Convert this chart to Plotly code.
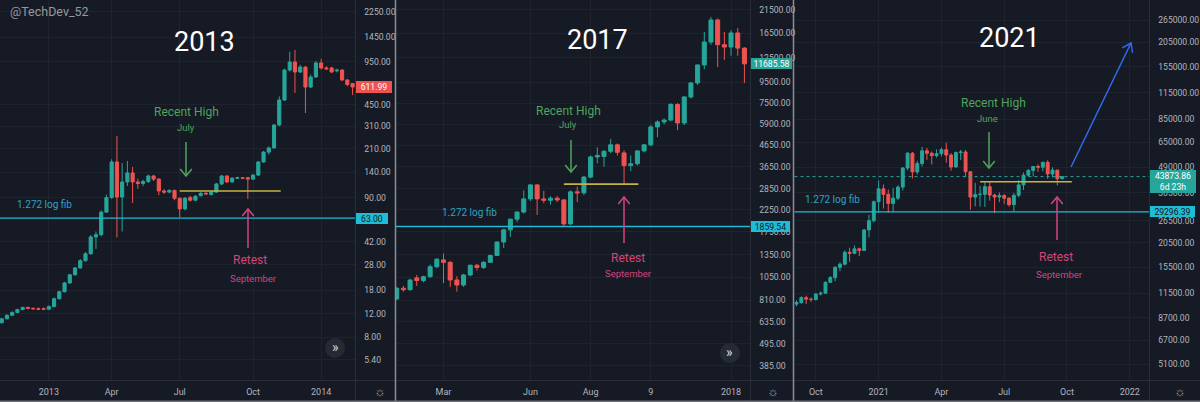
import math
import pandas as pd
import plotly.graph_objects as go

W, H = 1200, 402
FONT = "Roboto"
BG = "#161a25"
GRID = "#1f232e"
AXIS_TXT = "#b2b5be"
UP = "#26a69a"
DOWN = "#ef5350"
FIB = "#22b8d4"
FIB_TXT = "#2ea3c4"
GREEN_TXT = "#4fa55a"
PINK = "#d4457b"
YELLOW = "#c4b441"
BLUE = "#2f6bf0"

# ---------------- data: 2013 panel (weekly) ----------------
start_2013 = "2012-11-05"
open_2013 = [10.3, 11.0, 11.7, 12.3, 12.9, 13.4, 13.2, 13.1, 13.1, 13.0,
             13.6, 15.6, 17.6, 20.5, 23.6, 26.6, 30.1, 34.0, 45.5, 47.3,
             70, 90, 167, 91, 118, 138, 118, 115, 119, 131,
             124, 101, 99, 102, 89, 74, 90, 86, 93, 97,
             95, 99, 114, 131, 118, 126, 127, 127, 124, 133,
             167, 198, 213, 317, 489, 822, 944, 794, 865, 612,
             728, 929, 851, 851, 810, 822, 692, 650]
high_2013 = [11.2, 11.9, 12.5, 13.1, 13.6, 13.6, 13.4, 13.4, 13.4, 13.9,
             15.9, 17.9, 20.9, 24.0, 27.0, 31.0, 35.0, 47.0, 50.0, 72,
             95, 175, 262, 164, 170, 153, 125, 123, 134, 133,
             126, 104, 104, 103, 90, 91, 93, 94, 99, 99,
             101, 116, 133, 132, 128, 129, 128, 129, 135, 170,
             202, 218, 320, 520, 840, 1130, 1164, 900, 880, 760,
             960, 1000, 880, 870, 840, 830, 700, 650]
low_2013 = [10.1, 10.9, 11.6, 12.2, 12.8, 13.0, 12.9, 12.8, 12.8, 12.9,
            13.4, 15.4, 17.4, 20.2, 23.3, 26.3, 29.8, 33.5, 37, 46,
            69, 88, 45, 50, 110, 82, 105, 110, 116, 120,
            94, 96, 97, 86, 64, 72, 84, 85, 92, 94,
            93, 98, 112, 116, 117, 124, 124, 88, 122, 131,
            165, 190, 210, 310, 480, 800, 552, 780, 390, 600,
            720, 830, 820, 780, 790, 680, 620, 533]
close_2013 = [11.0, 11.7, 12.3, 12.9, 13.4, 13.2, 13.1, 13.0, 13.0, 13.6,
              15.6, 17.6, 20.5, 23.6, 26.6, 30.1, 34.0, 45.5, 47.3, 70,
              90, 167, 91, 118, 138, 118, 115, 119, 131, 124,
              101, 99, 102, 89, 74, 89, 86, 92, 97, 96,
              99, 114, 131, 118, 126, 127, 126, 124, 133, 167,
              198, 213, 317, 489, 822, 944, 794, 865, 612, 728,
              929, 851, 840, 794, 820, 692, 640, 611.99]
yticks_2013 = [2250, 1450, 950, 450, 310, 210, 140, 90, 42, 28, 18, 12, 8, 5.4]
xticks_2013 = ["2013-01-07", "2013-04-01", "2013-07-01", "2013-10-07", "2014-01-06"]
xtext_2013 = ["2013", "Apr", "Jul", "Oct", "2014"]
fib_2013 = 63.00
last_2013 = 611.99
high_line_2013 = 101

# ---------------- data: 2017 panel (weekly) ----------------
start_2017 = "2017-01-16"
open_2017 = [820, 925, 910, 1040, 1010, 1055, 1180, 1275, 1240, 1016,
             960, 1075, 1200, 1170, 1240, 1340, 1560, 1790, 2020, 2190,
             2540, 2975, 2540, 2500, 2560, 2510, 1915, 2750, 2720, 3250,
             4080, 4100, 4350, 4680, 4270, 3700, 3780, 4370, 4680, 5730,
             6060, 6190, 7380, 5990, 8040, 9420, 11540, 14950, 19190, 14510,
             14130, 16570, 13960]
high_2017 = [940, 950, 1030, 1075, 1065, 1210, 1300, 1370, 1260, 1060,
             1090, 1210, 1220, 1260, 1350, 1570, 1800, 2030, 2200, 2800,
             3000, 3000, 2780, 2620, 2620, 2540, 2800, 2920, 3300, 4150,
             4550, 4400, 5000, 4750, 4400, 4150, 4400, 4720, 5850, 6170,
             6300, 7500, 7500, 8100, 9500, 11600, 16750, 19850, 19500, 16750,
             17100, 17540, 14100]
low_2017 = [810, 890, 900, 950, 990, 1040, 1160, 980, 940, 890,
            940, 1060, 1130, 1150, 1230, 1330, 1460, 1650, 1950, 2150,
            2480, 2120, 2420, 2380, 2450, 1850, 1890, 2450, 2650, 3200,
            3800, 3650, 4250, 4150, 3000, 3480, 3700, 4300, 4600, 5100,
            5900, 6100, 5530, 5850, 7900, 9200, 11000, 14500, 11270, 12200,
            12800, 12800, 9420]
close_2017 = [925, 910, 1015, 1010, 1055, 1180, 1285, 1240, 1016, 960,
              1075, 1200, 1170, 1240, 1340, 1560, 1790, 2020, 2190, 2540,
              2975, 2540, 2500, 2560, 2510, 1915, 2750, 2720, 3250, 4080,
              4150, 4350, 4680, 4300, 3700, 3780, 4370, 4680, 5730, 6060,
              6190, 7380, 5990, 8040, 9420, 11540, 14950, 19190, 14510, 14130,
              16570, 13960, 11685.58]
yticks_2017 = [21500, 16500, 12500, 9500, 7500, 5900, 4650, 3650, 2850, 2250,
               1750, 1350, 1050, 810, 635, 495, 385]
xticks_2017 = ["2017-03-06", "2017-06-05", "2017-08-07", "2017-10-09", "2018-01-01"]
xtext_2017 = ["Mar", "Jun", "Aug", "9", "2018"]
fib_2017 = 1859.54
last_2017 = 11685.58
high_line_2017 = 3000

# ---------------- data: 2021 panel (weekly) ----------------
start_2021 = "2020-09-07"
open_2021 = [10150, 10330, 10930, 10750, 10700, 11400, 11500, 13030, 13760, 15480,
             16050, 18400, 18180, 19150, 18800, 23800, 26450, 32900, 38150, 35800,
             32250, 34250, 38900, 48400, 57400, 46300, 51000, 59000, 57350, 55800,
             57100, 59800, 56200, 49000, 57800, 58200, 46400, 34700, 35700, 35800,
             39100, 35500, 34700, 35300, 34250, 31800, 35400, 39900, 44600, 47100,
             49300, 48900, 51750, 45200, 47300, 42800]
high_2021 = [10600, 11100, 11180, 10950, 11500, 11750, 13200, 14000, 15700, 16400,
             18800, 19400, 19900, 19400, 24000, 28300, 33300, 42000, 40100, 37800,
             38500, 39700, 49000, 58300, 58300, 52600, 61700, 61000, 58500, 60000,
             61200, 64800, 57500, 58500, 59600, 59500, 46600, 40900, 39500, 41300,
             41300, 36000, 36600, 35900, 34700, 36400, 42200, 46000, 47900, 49500,
             50500, 52000, 52900, 48800, 47400, 44100]
low_2021 = [9900, 10200, 10150, 10400, 10550, 11200, 11400, 12950, 13200, 14800,
            15800, 16500, 18000, 17600, 18700, 21800, 25900, 29000, 30400, 28900,
            29200, 33500, 37400, 47100, 43000, 44950, 49300, 53200, 50400, 54600,
            55400, 51500, 47000, 48800, 53000, 43800, 30000, 31200, 31100, 31000,
            33300, 28800, 32700, 32100, 31100, 29300, 34600, 37600, 43800, 43900,
            46400, 46600, 42800, 43400, 39600, 42600]
close_2021 = [10330, 10930, 10750, 10700, 11400, 11500, 13030, 13760, 15480, 16050,
              18400, 18180, 19150, 18800, 23800, 26450, 32900, 38150, 35800, 32250,
              34250, 38900, 48400, 57400, 46300, 51000, 59000, 57350, 55800, 57100,
              59800, 56200, 49000, 57800, 58200, 46400, 34700, 35700, 35800, 39100,
              35500, 34700, 35300, 34250, 31800, 35400, 39900, 44600, 47100, 49300,
              48900, 51750, 45200, 47300, 42800, 43873.86]
yticks_2021 = [265000, 205000, 155000, 115000, 85000, 65000, 49000, 36500, 26500,
               20500, 15500, 11500, 8700, 6700, 5100]
xticks_2021 = ["2020-10-05", "2021-01-04", "2021-04-05", "2021-07-05", "2021-10-04", "2022-01-03"]
xtext_2021 = ["Oct", "2021", "Apr", "Jul", "Oct", "2022"]
fib_2021 = 29296.39
last_2021 = 43873.86
high_line_2021 = 41400


def X(px):
    return px / W


def Y(py):
    return 1 - py / H


panels = [
    dict(start=start_2013, o=open_2013, h=high_2013, l=low_2013, c=close_2013,
         x0=0, x1=355.5, xrange=["2012-11-02 17:30", "2014-02-20 22:00"],
         yrange=[0.581, 3.442], yticks=yticks_2013, xticks=xticks_2013, xtext=xtext_2013),
    dict(start=start_2017, o=open_2017, h=high_2017, l=low_2017, c=close_2017,
         x0=396, x1=750.5, xrange=["2017-01-15 06:30", "2018-01-21 09:00"],
         yrange=[2.516, 4.381], yticks=yticks_2017, xticks=xticks_2017, xtext=xtext_2017),
    dict(start=start_2021, o=open_2021, h=high_2021, l=low_2021, c=close_2021,
         x0=794.5, x1=1149.5, xrange=["2020-09-04 02:00", "2022-01-31 14:00"],
         yrange=[3.628, 5.523], yticks=yticks_2021, xticks=xticks_2021, xtext=xtext_2021),
]

fig = go.Figure()
layout = {}
for k, p in enumerate(panels):
    xa = "x" if k == 0 else f"x{k + 1}"
    ya = "y" if k == 0 else f"y{k + 1}"
    dates = pd.date_range(p["start"], periods=len(p["c"]), freq="7D")
    fig.add_trace(go.Candlestick(
        x=dates, open=p["o"], high=p["h"], low=p["l"], close=p["c"],
        xaxis=xa, yaxis=ya, showlegend=False, hoverinfo="skip",
        increasing=dict(line=dict(color=UP, width=1), fillcolor=UP),
        decreasing=dict(line=dict(color=DOWN, width=1), fillcolor=DOWN),
    ))
    xkey = "xaxis" if k == 0 else f"xaxis{k + 1}"
    ykey = "yaxis" if k == 0 else f"yaxis{k + 1}"
    layout[xkey] = dict(
        type="date", domain=[X(p["x0"]), X(p["x1"])], range=p["xrange"], anchor=ya,
        rangeslider=dict(visible=False), tickmode="array", tickvals=p["xticks"],
        ticktext=p["xtext"], showgrid=True, gridcolor=GRID, gridwidth=1,
        zeroline=False, showline=False, ticks="outside", ticklen=3,
        tickcolor="rgba(0,0,0,0)", tickfont=dict(family=FONT, size=9, color=AXIS_TXT),
        automargin=False, fixedrange=True,
    )
    layout[ykey] = dict(
        type="log", domain=[22 / H, 1], range=p["yrange"], anchor=xa, side="right",
        tickmode="array", tickvals=p["yticks"],
        ticktext=[f"{v:.2f}" for v in p["yticks"]],
        showgrid=True, gridcolor=GRID, gridwidth=1, zeroline=False, showline=False,
        ticks="outside", ticklen=6, tickcolor="rgba(0,0,0,0)",
        tickfont=dict(family=FONT, size=8.6, color=AXIS_TXT),
        automargin=False, fixedrange=True,
    )

shapes = []
annotations = []


def line_px(x0, y0, x1, y1, color, width=1.0, dash=None):
    d = dict(type="line", xref="paper", yref="paper", x0=X(x0), y0=Y(y0),
             x1=X(x1), y1=Y(y1), line=dict(color=color, width=width))
    if dash:
        d["line"]["dash"] = dash
    shapes.append(d)


def arrow_px(tx, ty, hx, hy, color, width=1.5, head=9, ang_deg=40):
    line_px(tx, ty, hx, hy, color, width)
    dx, dy = hx - tx, hy - ty
    L = math.hypot(dx, dy)
    bx, by = -dx / L, -dy / L
    pts = []
    for s in (1, -1):
        a = math.radians(ang_deg) * s
        rx = bx * math.cos(a) - by * math.sin(a)
        ry = bx * math.sin(a) + by * math.cos(a)
        pts.append((hx + rx * head, hy + ry * head))
    path = (f"M {X(pts[0][0])},{Y(pts[0][1])} L {X(hx)},{Y(hy)} "
            f"L {X(pts[1][0])},{Y(pts[1][1])}")
    shapes.append(dict(type="path", xref="paper", yref="paper", path=path,
                       line=dict(color=color, width=width)))


def text_px(txt, px, py, size, color, xanchor="center"):
    annotations.append(dict(text=txt, xref="paper", yref="paper", x=X(px), y=Y(py),
                            xanchor=xanchor, yanchor="middle", showarrow=False,
                            font=dict(family=FONT, size=size, color=color)))


def price_box(txt, left_px, yref, price, bg, fg, w, h, yshift=0):
    annotations.append(dict(text=txt, xref="paper", x=X(left_px), xanchor="left",
                            yref=yref, y=math.log10(price), yanchor="middle",
                            yshift=yshift,
                            showarrow=False, bgcolor=bg, borderwidth=0, borderpad=0,
                            width=w, height=h, align="center",
                            font=dict(family=FONT, size=8.6, color=fg)))


# fib lines, high lines, last price line
for xr, yr, val in [("x", "y", fib_2013), ("x2", "y2", fib_2017), ("x3", "y3", fib_2021)]:
    shapes.append(dict(type="line", xref=f"{xr} domain", yref=yr, x0=0, x1=1,
                       y0=val, y1=val, line=dict(color=FIB, width=1.3)))
shapes.append(dict(type="line", xref="x", yref="y", x0="2013-07-01", x1="2013-11-13",
                   y0=high_line_2013, y1=high_line_2013, line=dict(color=YELLOW, width=1.5)))
shapes.append(dict(type="line", xref="x2", yref="y2", x0="2017-07-10", x1="2017-09-26",
                   y0=high_line_2017, y1=high_line_2017, line=dict(color=YELLOW, width=1.8)))
shapes.append(dict(type="line", xref="x3", yref="y3", x0="2021-05-31", x1="2021-10-11",
                   y0=high_line_2021, y1=high_line_2021, line=dict(color=YELLOW, width=1.5)))
shapes.append(dict(type="line", xref="x3 domain", yref="y3", x0=0, x1=1,
                   y0=last_2021, y1=last_2021,
                   line=dict(color=UP, width=1, dash="dot")))

# chart frame lines
line_px(0, 380.5, 1200, 380.5, "#2a2e39", 1)
for bx in (355.5, 750.5, 1149.5):
    line_px(bx, 0, bx, 402, "#2a2e39", 1)
for sx in (395.5, 793.5):
    line_px(sx, 0, sx, 402, "#8a8e96", 1.5)
line_px(0, 401.3, 1200, 401.3, "#6d7079", 1.5)

# arrows
arrow_px(186, 142, 186, 176, GREEN_TXT)
arrow_px(248, 248, 248, 209, PINK)
arrow_px(571, 140, 571, 172, GREEN_TXT)
arrow_px(624, 243, 624, 197, PINK)
arrow_px(989, 132, 989, 168, GREEN_TXT)
arrow_px(1057, 240, 1057, 197, PINK)
arrow_px(1071, 167, 1131, 43, BLUE, width=1.5, head=10, ang_deg=35)

# scroll buttons
for cx, cy in [(335, 348), (730, 353)]:
    shapes.append(dict(type="circle", xref="paper", yref="paper",
                       x0=X(cx - 10), x1=X(cx + 10), y0=Y(cy + 10), y1=Y(cy - 10),
                       fillcolor="#262a35", line=dict(width=0)))
    text_px("»", cx, cy - 1, 14, "#d1d4dc")

# gear icons
for gx in (380, 773, 1180):
    text_px("☼", gx, 391, 13, "#9598a1")

# titles and notes
text_px("@TechDev_52", 8, 12, 12.5, "#9598a1", xanchor="left")
text_px("2013", 204, 42, 27, "#ffffff")
text_px("2017", 597, 40, 27, "#ffffff")
text_px("2021", 1009, 38, 27, "#ffffff")

text_px("Recent High", 186, 112, 12, GREEN_TXT)
text_px("July", 186, 127, 9.5, GREEN_TXT)
text_px("Retest", 250, 260, 12, PINK)
text_px("September", 253, 278, 9.5, PINK)
text_px("1.272 log fib", 15, 205, 10, FIB_TXT, xanchor="left")

text_px("Recent High", 568, 111, 12, GREEN_TXT)
text_px("July", 568, 125, 9.5, GREEN_TXT)
text_px("Retest", 628, 258, 12, PINK)
text_px("September", 628, 273, 9.5, PINK)
text_px("1.272 log fib", 440, 212, 10, FIB_TXT, xanchor="left")

text_px("Recent High", 993, 103, 12, GREEN_TXT)
text_px("June", 987, 118, 9.5, GREEN_TXT)
text_px("Retest", 1056, 257, 12, PINK)
text_px("September", 1059, 274, 9.5, PINK)
text_px("1.272 log fib", 803, 200, 10, FIB_TXT, xanchor="left")

# price boxes on the axes
price_box(f"{last_2013:.2f}", 356, "y", last_2013, DOWN, "#ffffff", 36, 12)
price_box(f"{fib_2013:.2f}", 356, "y", fib_2013, "#1fbcd6", "#131722", 32, 11)
price_box(f"{last_2017:.2f}", 751, "y2", last_2017, UP, "#ffffff", 41, 11)
price_box(f"{fib_2017:.2f}", 751, "y2", fib_2017, "#1fbcd6", "#131722", 39, 11)
price_box(f"{last_2021:.2f}<br>6d 23h", 1150, "y3", last_2021, UP, "#ffffff", 46, 23,
          yshift=-5)
price_box(f"{fib_2021:.2f}", 1150, "y3", fib_2021, "#1fbcd6", "#131722", 45, 11)

fig.update_layout(
    width=W, height=H, margin=dict(l=0, r=0, t=0, b=0),
    paper_bgcolor=BG, plot_bgcolor=BG,
    boxgap=0.4, boxgroupgap=0,
    shapes=shapes, annotations=annotations, showlegend=False,
    font=dict(family=FONT, color=AXIS_TXT),
    **layout,
)

fig.write_html(
    "out.html",
    config={"displayModeBar": False},
    post_script="document.body.style.margin='0px';document.body.style.overflow='hidden';",
)
